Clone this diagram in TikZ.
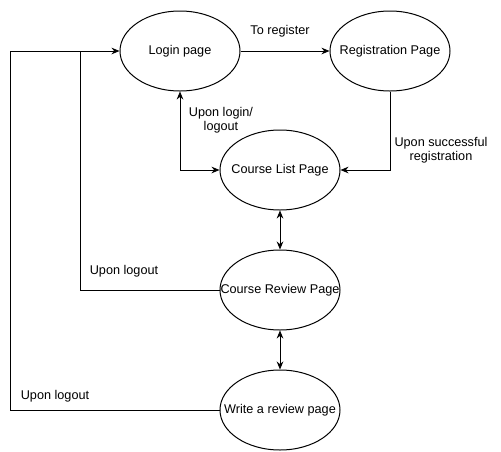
\documentclass[tikz,border=0pt]{standalone}
\usepackage{fontspec}
\setmainfont{Liberation Sans}
\usetikzlibrary{shapes,arrows.meta,positioning,calc}

\begin{document}
\begin{tikzpicture}[
    x=0.75pt, y=-0.75pt,
    page/.style={ellipse, draw, line width=0.75pt, minimum width=90pt, minimum height=60pt, inner sep=0pt, text centered, font=\fontsize{9.5}{10.5}\selectfont,
        execute at begin node={\hbox to 0pt\bgroup\hss}, execute at end node={\hss\egroup}},
    lbl/.style={align=center, font=\fontsize{9.5}{10.5}\selectfont},
    arrow/.style={-{Stealth[length=6pt,width=5pt]}, line width=0.75pt},
    twoway/.style={{Stealth[length=6pt,width=5pt]}-{Stealth[length=6pt,width=5pt]}, line width=0.75pt},
    plain/.style={line width=0.75pt}
]
\useasboundingbox (0,0) rectangle (501,451);

% Pages
\node[page] (login) at (180,51) {Login page};
\node[page] (reg) at (390,51) {Registration Page};
\node[page] (clist) at (280,170) {Course List Page};
\node[page] (review) at (280,290) {Course Review Page};
\node[page] (write) at (280,410) {Write a review page};

% Bends of the logout lines
\coordinate (bendA) at (80,51);
\coordinate (bendB) at (10,51);

% Connectors
\draw[arrow] (login) -- (reg);
\draw[arrow] (reg.south) |- (clist.east);
\draw[twoway] (login.south) |- (clist.west);
\draw[twoway] (clist) -- (review);
\draw[twoway] (review) -- (write);
\draw[plain] (review.west) -| (bendA);
\draw[arrow] (write.west) -| (bendB) -- (login.west);

% Labels
\node[lbl] (tReg) at (280,31) {To register};
\node[lbl] (tSucc) at (441,150) {Upon successful\\registration};
\node[lbl] (tLogin) at (221,120) {Upon login/\\logout};
\node[lbl] (tOut1) at (124,271) {Upon logout};
\node[lbl] (tOut2) at (55,396) {Upon logout};

\end{tikzpicture}
\end{document}
